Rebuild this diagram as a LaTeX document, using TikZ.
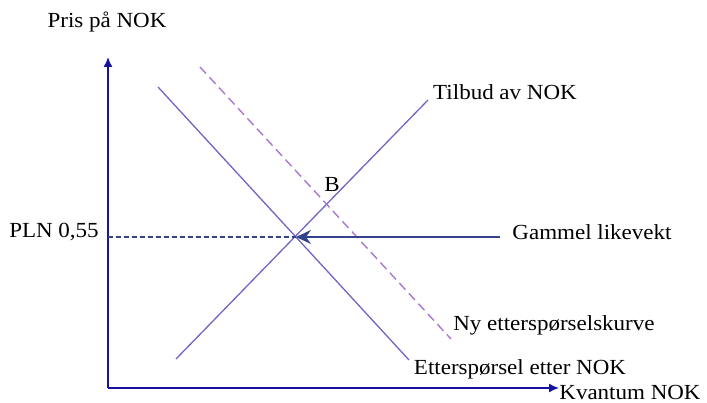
\documentclass[tikz,border=0pt]{standalone}
\usepackage{fontspec}
\setmainfont[FakeStretch=1.07]{Liberation Serif}
\usetikzlibrary{arrows.meta}
\definecolor{axiscol}{HTML}{1414A0}
\definecolor{curvecol}{HTML}{6E66C4}
\definecolor{dashcol}{HTML}{A878D4}
\definecolor{arrcol}{HTML}{34448C}
\tikzset{
  lbl/.style={font=\fontsize{21.5}{25}\selectfont, text=black, inner sep=0pt},
  axisline/.style={draw=axiscol, line width=1.5pt, -{Latex[length=10pt,width=9pt]}},
  curve/.style={draw=curvecol, line width=1.3pt},
  newcurve/.style={draw=dashcol, line width=1.4pt, dash pattern=on 9pt off 5pt},
  guide/.style={draw=arrcol, line width=1.2pt, dash pattern=on 5pt off 3pt},
  pointer/.style={draw=arrcol, line width=1.2pt, -{Stealth[length=15pt,width=14pt,inset=5pt]}}
}
\begin{document}
\begin{tikzpicture}[x=1pt,y=-1pt]
\useasboundingbox (0,0) rectangle (707,403);
% coordinates
\coordinate (O) at (108,388);
\coordinate (Ytop) at (108,57);
\coordinate (Xend) at (559,388);
\coordinate (E) at (296,237);
\coordinate (Yp) at (108,237);
\coordinate (D1) at (158,87);
\coordinate (D2) at (409,360);
\coordinate (S1) at (176,359);
\coordinate (S2) at (428,100);
\coordinate (N1) at (200,67);
\coordinate (N2) at (451,339);
\coordinate (A1) at (500,237);
% axes
\draw[axisline] (O) -- (Ytop);
\draw[axisline] (O) -- (Xend);
% curves
\draw[curve] (D1) -- (D2);
\draw[curve] (S1) -- (S2);
\draw[newcurve] (N1) -- (N2);
% guides
\draw[guide] (Yp) -- (E);
\draw[pointer] (A1) -- (E);
% labels
\node[lbl] (ylab) at (107,22) {Pris på NOK};
\node[lbl] (xlab) at (630,392) {Kvantum NOK};
\node[lbl] (plab) at (54,232) {PLN 0,55};
\node[lbl] (blab) at (332,184) {B};
\node[lbl] (glab) at (592,232) {Gammel likevekt};
\node[lbl] (nlab) at (554,325) {Ny etterspørselskurve};
\node[lbl] (dlab) at (520,369) {Etterspørsel etter NOK};
\node[lbl] (slab) at (505,92) {Tilbud av NOK};
\end{tikzpicture}
\end{document}
